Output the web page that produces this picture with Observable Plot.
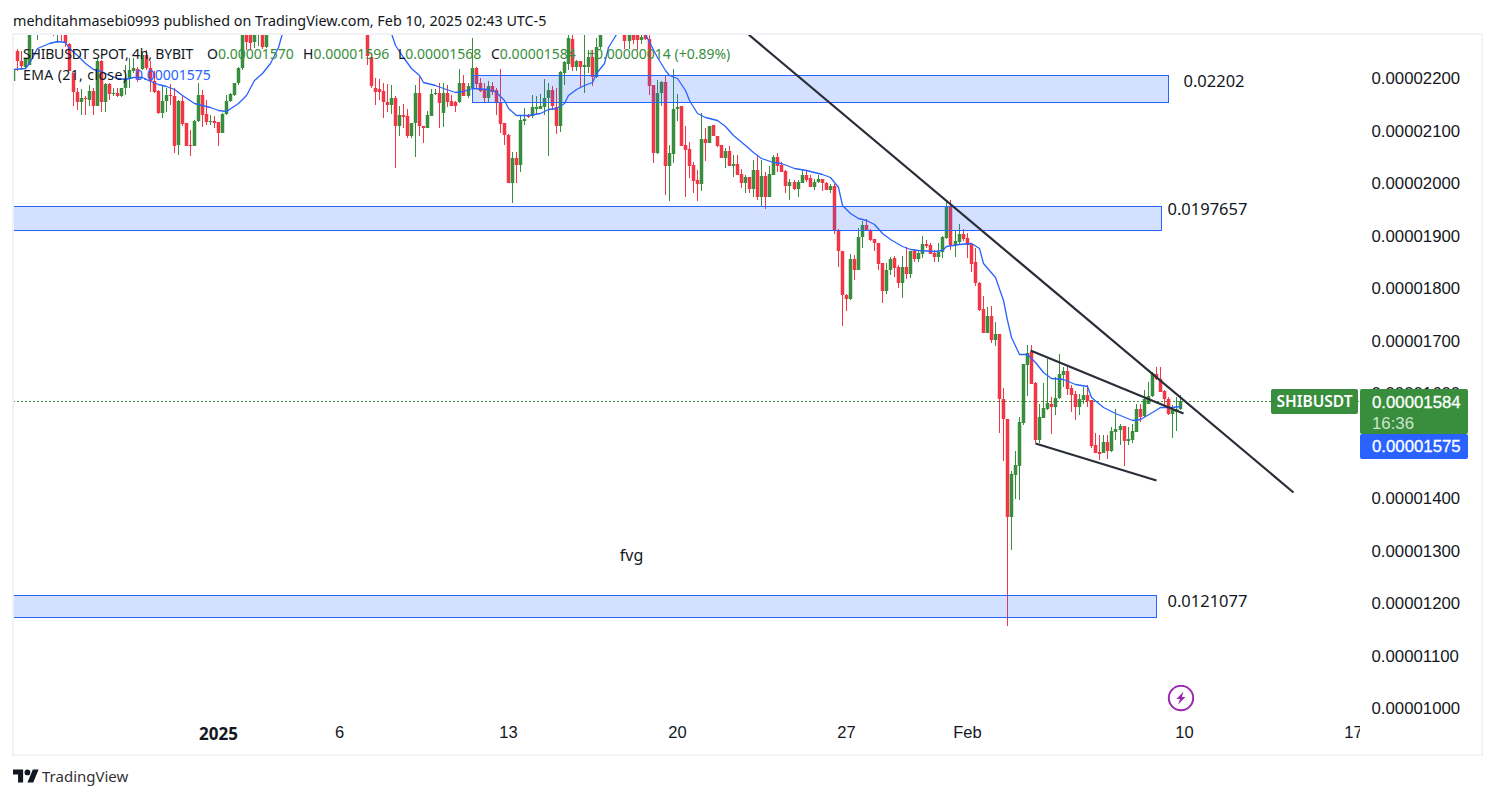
<!DOCTYPE html>
<html>
<head>
<meta charset="utf-8">
<script src="https://cdn.jsdelivr.net/npm/d3@7"></script>
<script src="https://cdn.jsdelivr.net/npm/@observablehq/plot@0.6"></script>
<style>
html,body{margin:0;padding:0;background:#fff;width:1494px;height:798px;overflow:hidden}
#page{position:relative;width:1494px;height:798px;font-family:"Noto Sans",sans-serif;color:#131722}
#head{height:34px;line-height:42px;padding-left:13px;font-size:14.35px;color:#131722;white-space:pre}
#chart svg{display:block}
#frame{position:absolute;left:12px;top:33px;width:1467px;height:719px;border:2px solid #f2f3f6;pointer-events:none}
.abs{position:absolute;white-space:pre}
.g{color:#388e3c}
#foot{position:absolute;left:13px;top:766px;height:20px;display:flex;align-items:center;gap:3px;font-size:15px;color:#333}
.tag{position:absolute;color:#fff;border-radius:2px;box-sizing:border-box}
</style>
</head>
<body>
<div id="page">
  <div id="head">mehditahmasebi0993 published on TradingView.com, Feb 10, 2025 02:43 UTC-5</div>
  <div id="chart"></div>
  <div id="frame"></div>
  <div id="foot"><svg width="26" height="14" viewBox="0 4 36 18"><path d="M14 22H7V11H0V4h14v18zM28 22h-8l7.5-18h8L28 22z" fill="#131722"/><circle cx="20" cy="8" r="4" fill="#131722"/></svg><span>TradingView</span></div>
</div>
<script>
// Prices are in units of 0.00000001 USDT. Candles above the pane's top edge cannot be read and are skipped.
const opens = [
2194,2252,2233,2222,2225,2295,2295,2320,2305,2310,
2310,2290,2315,2295,2265,2209,2173,2154,2163,2159,
2176,2147,2232,2155,2189,2169,2171,2165,2181,2198,
2214,2217,2217,2244,2219,2195,2176,2133,2156,2168,
2166,2073,2157,2114,2073,2070,2119,2168,2131,2117,
2119,2117,2096,2131,2157,2168,2190,2219,2282,2285,
2268,2285,2295,2259,
2282,2241,2181,2180,2176,2155,2149,2162,2108,2130,
2128,2089,2114,2171,2109,2105,2128,2170,2172,2134,
2172,2157,2155,2154,2190,2166,2181,2220,2190,2179,
2162,2185,2178,2153,2114,2092,2000,2047,2035,2118,
2129,2127,2142,2142,2145,2162,2178,2145,2109,2210,
2227,2275,2221,2232,2222,
2222,2241,2203,2259,
2300,2270,2290,2285,2272,2282,2274,2187,2057,2171,
2192,2033,2056,2141,2146,2073,2065,2035,2006,1999,
2084,2077,2110,2090,2072,2047,2061,2033,2037,2018,
2001,2011,1988,2025,1973,2014,1973,2016,2049,2035,
2023,1995,2002,1989,2001,2016,2009,1993,2003,2007,
2000,1986,1995,1909,1871,1787,1779,1856,1835,1897,
1920,1911,1893,1885,1847,1795,1835,1857,1840,1810,
1840,1827,1871,1855,1865,1884,1882,1866,1860,1868,
1895,1956,1882,1887,1903,1895,1884,1849,1809,1760,
1715,1746,1701,1712,1589,1550,1364,1444,1461,1543,
1653,1679,1620,1510,1553,1570,1580,1573,1590,1634,
1642,1609,1598,1573,1587,1596,1586,1501,1488,1485,
1507,1490,1526,1529,1537,1509,1510,1526,1569,1556,
1580,1594,1637,1626,1604,1589,1560,1564,1570];
const closes = [
2216,2232,2223,2238,2290,2320,2320,2305,2310,2300,
2296,2315,2295,2267,2213,2173,2154,2162,2160,2176,
2147,2232,2155,2189,2170,2171,2165,2181,2200,2216,
2219,2197,2244,2219,2194,2174,2133,2157,2168,2165,
2071,2157,2113,2070,2071,2119,2168,2130,2117,2119,
2115,2095,2131,2157,2170,2190,2220,2282,2268,2267,
2290,2295,2259,2300,
2243,2184,2173,2174,2154,2149,2162,2108,2130,2125,
2089,2114,2171,2108,2104,2130,2170,2172,2152,2172,
2155,2147,2147,2190,2166,2184,2220,2189,2176,2162,
2185,2174,2155,2113,2091,2000,2047,2035,2120,2123,
2125,2144,2144,2146,2162,2178,2147,2109,2211,2230,
2276,2221,2232,2222,2225,
2241,2203,2259,2284,
2270,2290,2273,2273,2279,2274,2185,2058,2171,2193,
2033,2057,2141,2145,2071,2063,2033,2004,1999,2084,
2076,2109,2089,2071,2047,2061,2033,2037,2016,2001,
2011,1988,2025,1973,2014,1973,2018,2049,2033,2022,
1995,2002,1989,2002,2016,2006,1993,2003,2008,2000,
1986,1995,1908,1870,1787,1779,1856,1835,1898,1920,
1908,1892,1885,1846,1795,1835,1856,1838,1810,1840,
1827,1871,1855,1866,1884,1880,1865,1860,1869,1898,
1955,1882,1889,1903,1893,1882,1846,1809,1758,1715,
1746,1701,1712,1589,1550,1364,1446,1463,1545,1655,
1677,1618,1510,1554,1571,1581,1573,1590,1636,1642,
1607,1596,1573,1588,1596,1585,1499,1486,1484,1507,
1490,1528,1531,1537,1509,1512,1528,1569,1555,1588,
1594,1639,1626,1602,1589,1561,1569,1569,1584];
const highs = [
2222,2255,2251,2238,2300,2340,2335,2340,2330,2325,
2330,2330,2320,2310,2267,2209,2181,2179,2165,2187,
2181,2238,2235,2190,2190,2181,2181,2181,2225,2238,
2238,2222,2247,2254,2232,2213,2178,2187,2181,2189,
2181,2159,2168,2114,2101,2120,2190,2178,2159,2130,
2127,2117,2133,2168,2171,2190,2222,2300,2300,2295,
2300,2300,2310,2300,
2290,2247,2200,2198,2190,2189,2187,2166,2147,2151,
2141,2115,2187,2203,2109,2138,2179,2179,2190,2190,
2187,2168,2157,2217,2206,2190,2276,2221,2200,2190,
2195,2193,2181,2217,2114,2094,2060,2060,2130,2143,
2132,2168,2165,2170,2198,2190,2184,2181,2213,2232,
2300,2300,2235,2232,2290,
2253,2253,2276,2300,
2310,2300,2300,2295,2300,2295,2284,2187,2197,2195,
2206,2073,2217,2170,2147,2109,2079,2041,2025,2134,
2105,2109,2111,2090,2073,2066,2070,2054,2054,2026,
2016,2012,2044,2051,2044,2022,2032,2054,2058,2041,
2024,2007,2005,2005,2024,2024,2016,2007,2016,2007,
2002,1999,1999,1913,1871,1788,1865,1863,1914,1927,
1931,1912,1893,1885,1848,1848,1860,1861,1844,1861,
1879,1871,1875,1873,1899,1892,1885,1873,1885,1899,
1968,1968,1908,1923,1912,1904,1884,1876,1812,1784,
1763,1766,1735,1712,1609,1550,1451,1490,1555,1655,
1691,1691,1622,1580,1620,1664,1593,1631,1674,1650,
1651,1615,1604,1598,1612,1615,1587,1524,1520,1520,
1520,1536,1569,1542,1537,1536,1542,1580,1580,1606,
1622,1641,1650,1650,1606,1592,1577,1592,1596];
const lows = [
2190,2213,2216,2219,2225,2288,2273,2290,2292,2290,
2281,2267,2270,2260,2213,2146,2140,2130,2129,2146,
2130,2146,2136,2136,2159,2165,2164,2164,2168,2181,
2209,2193,2216,2216,2174,2171,2132,2124,2136,2149,
2058,2054,2108,2070,2052,2070,2117,2107,2111,2111,
2105,2071,2095,2130,2155,2165,2187,2216,2254,2254,
2257,2262,2255,2258,
2225,2181,2149,2159,2124,2136,2132,2028,2090,2105,
2086,2086,2049,2089,2077,2105,2128,2168,2105,2107,
2145,2146,2136,2153,2165,2162,2181,2181,2174,2154,
2155,2168,2130,2095,2073,2000,1962,2001,2022,2111,
2124,2124,2130,2141,2130,2051,2140,2094,2098,2187,
2216,2213,2213,2181,2171,
2209,2184,2200,2255,
2255,2255,2265,2254,2265,2272,2168,2038,2056,2146,
1977,1965,2039,2119,2071,1974,2009,1982,1965,1984,
2043,2077,2089,2068,2047,2028,2032,2012,2016,1990,
1981,1981,1974,1968,1957,1950,1974,2016,2022,2022,
1981,1968,1987,1974,2001,2003,1992,1986,2000,1984,
1986,1981,1903,1841,1728,1757,1777,1816,1835,1876,
1908,1889,1870,1835,1772,1789,1825,1821,1800,1781,
1817,1819,1850,1849,1857,1876,1865,1849,1850,1857,
1893,1873,1860,1882,1889,1857,1831,1804,1757,1714,
1714,1696,1689,1523,1471,1156,1301,1399,1396,1539,
1594,1618,1505,1505,1552,1568,1522,1558,1588,1612,
1596,1564,1548,1558,1580,1574,1495,1485,1472,1485,
1474,1488,1510,1501,1461,1501,1505,1526,1545,1555,
1579,1593,1625,1602,1571,1558,1515,1528,1568];

// Bars counted from the left edge of the pane; null marks where the line leaves the pane.
const emaBars = [0,3,4,6,9,11,13,14,16,18,20,22,24,26,28,30,32,34,36,38,40,42,45,47,49,51,53,56,58,60,62,64,66,67,null,
94,95,97,99,101,102,105,107,110,112,114,118,120,122,123,125,128,131,133,135,137,138,140,142,144,145,147,148,150,null,
157,160,162,163,165,167,168,170,172,175,177,179,182,184,186,189,191,194,197,201,203,205,206,208,210,212,214,216,218,221,223,225,229,231,232,235,238,240,241,244,246,247,248,250,252,254,256,258,261,264,267,268,271,274,278,280,283,285,288,290];
const emaValues = [2217,2219,2228,2257,2267,2270,2268,2257,2244,2228,2218,2214,2206,2200,2198,2202,2202,2195,2189,2184,2180,2168,2152,2149,2145,2140,2138,2152,2168,2197,2209,2228,2260,2286,null,
2286,2263,2241,2219,2206,2192,2186,2181,2174,2176,2181,2180,2174,2159,2143,2130,2130,2134,2141,2143,2152,2168,2179,2187,2193,2209,2228,2260,2284,null,
2284,2241,2216,2206,2200,2178,2159,2133,2126,2120,2108,2092,2073,2060,2047,2041,2039,2028,2024,2018,2011,1993,1959,1943,1933,1930,1922,1904,1893,1880,1874,1873,1871,1873,1880,1884,1885,1876,1847,1821,1777,1739,1707,1675,1674,1660,1641,1628,1627,1617,1613,1593,1574,1562,1548,1550,1564,1574,1573,1575];

// Drawn zones: start bar, end bar, lower and upper price
const zoneStart = [114,0,0];
const zoneEnd   = [287,285.3,284];
const zoneLow   = [2154,1911,1173];
const zoneHigh  = [2206,1956,1215];
const zoneLabels = ["0.02202","0.0197657","0.0121077"];
const zoneLabelBar = [290.8,286.8,286.8];
const zoneLabelPrice = [2194,1951,1204];

// Trend lines: start bar, start price, end bar, end price
const trendBar1   = [182.7,252.7,254];
const trendPrice1 = [2284,1682,1505];
const trendBar2   = [318.1,290.8,284];
const trendPrice2 = [1411,1562,1434];

const priceTicks = [1000,1100,1200,1300,1400,1500,1600,1700,1800,1900,2000,2100,2200];
const tickDates = ["2025-01-06","2025-01-13","2025-01-20","2025-01-27","2025-02-01","2025-02-10","2025-02-17"];
const tickLabels = ["6","13","20","27","Feb","10","17"];
const yearTick = "2025-01-01";
const lastClose = 1584, lastEma = 1575, lastBar = 290;

const H4 = 4 * 3600e3;
const barDate = i => new Date(Date.UTC(2025,0,1) + (i - 51) * H4);
// 24 bars after the 64th and 5 more after the 123rd row lie above the pane
const barOf = r => r < 64 ? r : r < 123 ? r + 24 : r + 29;

const candles = opens.map((o,r) => ({
  date: barDate(barOf(r)), open:o, close:closes[r], high:highs[r], low:lows[r], up: closes[r] >= o
}));
const ema = emaBars.map((b,i) => ({date: b == null ? barDate(0) : barDate(b), value: emaValues[i]}));
const zones = zoneStart.map((s,i)=>({x1:barDate(s),x2:barDate(zoneEnd[i]),y1:zoneLow[i],y2:zoneHigh[i]}));
const zoneText = zoneLabels.map((t,i)=>({t,x:barDate(zoneLabelBar[i]),y:zoneLabelPrice[i]}));
const trends = trendBar1.map((b,i)=>({x1:barDate(b),y1:trendPrice1[i],x2:barDate(trendBar2[i]),y2:trendPrice2[i]}));
const tickDateObjs = tickDates.map(d=>new Date(d+"T00:00Z"));
const up = "#388e3c", down = "#f23645", blue = "#2962ff", ink = "#2a2e39";
const col = d => d.up ? up : down;
const tf = d3.utcFormat("%Y-%m-%d");

const chart = Plot.plot({
  width:1494, height:720, marginLeft:13, marginRight:134, marginTop:0, marginBottom:0,
  style:{background:"transparent",fontFamily:"Noto Sans, sans-serif",overflow:"visible"},
  x:{type:"utc",domain:[barDate(0.07),barDate(334.75)],round:true,axis:null},
  y:{domain:[912.4,2284],round:true,axis:null},
  marks:[
    Plot.ruleY([lastClose],{stroke:up,strokeDasharray:"2,2",strokeWidth:1}),
    Plot.ruleX(candles,{x:"date",y1:"low",y2:"high",stroke:col,strokeWidth:1,clip:"frame"}),
    Plot.ruleX(candles,{x:"date",y1:"open",y2:"close",stroke:col,strokeWidth:3.5,strokeLinecap:"butt",clip:"frame"}),
    Plot.lineY(ema,{x:"date",y:"value",stroke:blue,strokeWidth:1.3,curve:"linear",clip:"frame"}),
    Plot.rect(zones,{x1:"x1",x2:"x2",y1:"y1",y2:"y2",fill:blue,fillOpacity:0.2,stroke:blue,strokeWidth:1,dx:0.5,dy:0.5}),
    Plot.link(trends,{x1:"x1",y1:"y1",x2:"x2",y2:"y2",stroke:ink,strokeWidth:2.2,clip:"frame"}),
    Plot.text(zoneText,{x:"x",y:"y",text:"t",textAnchor:"start",fontSize:16.5,fill:"#131722"}),
    Plot.text([{x:barDate(153.6),y:1291,t:"fvg"}],{x:"x",y:"y",text:"t",fontSize:16,fill:"#131722"}),
    Plot.axisY({anchor:"right",ticks:priceTicks,tickSize:0,tickPadding:11,tickFormat:v=>(v*1e-8).toFixed(8),fontSize:16.8,fontFamily:"Liberation Sans",fill:"#131722"}),
    Plot.axisX({anchor:"bottom",ticks:tickDateObjs,tickSize:0,tickPadding:-28,clip:"frame",tickFormat:d=>tickLabels[tickDates.indexOf(tf(d))],fontSize:16.5,fontFamily:"Liberation Sans",fill:"#131722"}),
    Plot.axisX({anchor:"bottom",ticks:[new Date(yearTick+"T00:00Z")],tickSize:0,tickPadding:-27,tickFormat:()=>"2025",fontSize:17,fontWeight:"bold",fill:"#131722"})
  ]
});
document.getElementById("chart").appendChild(chart);

const page = document.getElementById("page");
const yOf = v => 34 + chart.scale("y").apply(v);
const xOf = b => chart.scale("x").apply(barDate(b));
function abs(html, css, cls){const e=document.createElement("div");e.className=cls||"abs";e.innerHTML=html;e.style.cssText=css;page.appendChild(e);return e;}

// Legend
const legendValues = [["O","0.00001570",207],["H","0.00001596",303],["L","0.00001568",398],["C","0.00001584",491]];
abs("SHIBUSDT SPOT, 4h, BYBIT","left:23px;top:44px;font-size:14px;line-height:20px;letter-spacing:-.2px");
legendValues.forEach(([k,v,x])=>abs(k+'<span class="g">'+v+'</span>',`left:${x}px;top:44px;font-size:14px;line-height:20px`));
abs('<span class="g">+0.00000014 (+0.89%)</span>',"left:587px;top:44px;font-size:14px;line-height:20px");
abs('EMA (21, close)',"left:23px;top:65px;font-size:14px;line-height:20px;letter-spacing:.4px");
abs('<span style="color:#2962ff">0.00001575</span>',"left:135px;top:65px;font-size:14px;line-height:20px");

// Price tags
const py = yOf(lastClose);
abs("SHIBUSDT",`left:1271px;top:${py-12.5}px;width:87px;height:25px;background:${up};font:600 15.5px/25px 'Noto Sans';text-align:center`,"tag");
abs("<span style='-webkit-text-stroke:.3px #fff'>0.00001584</span><br><span style='color:#cfe3d0'>16:36</span>",`left:1360px;top:${py-12.5}px;width:108px;height:45px;background:${up};font:16.8px/21px 'Liberation Sans';padding:3px 0 0 12px`,"tag");
abs("<span style='-webkit-text-stroke:.3px #fff'>0.00001575</span>",`left:1360px;top:${py+32.5}px;width:108px;height:25px;background:${blue};font:16.8px/26px 'Liberation Sans';padding-left:12px`,"tag");

// Lightning badge
const bolt = document.createElement("div");
bolt.style.cssText=`position:absolute;left:${xOf(lastBar)-13}px;top:685px;width:28px;height:28px`;
bolt.innerHTML='<svg width="28" height="28" viewBox="0 0 28 28"><circle cx="14" cy="13" r="12.2" fill="#fff" stroke="#9c27b0" stroke-width="2"/><path d="M16.5 6.5 9.5 14h3.6l-2 5.5 7.4-7.5h-3.6z" fill="#9c27b0"/></svg>';
page.appendChild(bolt);
</script>
</body>
</html>
